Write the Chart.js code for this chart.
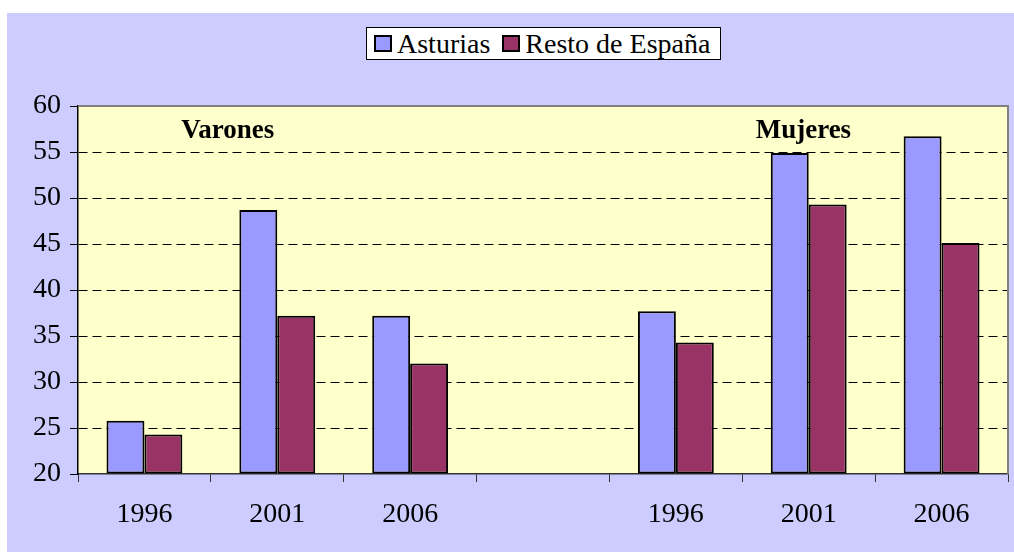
<!DOCTYPE html>
<html>
<head>
<meta charset="utf-8">
<script src="https://cdn.jsdelivr.net/npm/chart.js@4/dist/chart.umd.min.js"></script>
<style>
  html, body { margin: 0; padding: 0; background: #fff; }
  body { width: 1014px; height: 552px; position: relative; overflow: hidden; }
  #frame { position: absolute; left: 7px; top: 13px; width: 1007px; height: 539px; background: #CCCCFF; }
  #legend {
    position: absolute; left: 359px; top: 14px; height: 33px; box-sizing: border-box;
    background: #fff; border: 1px solid #000; display: flex; align-items: center;
    padding: 0 10px 0 7px; font-family: "Liberation Serif", "Times New Roman", serif; font-size: 28px; color: #000;
  }
  #legend .item { display: flex; align-items: center; }
  #legend .item + .item { margin-left: 12px; }
  #legend .sw { width: 18px; height: 17px; box-sizing: border-box; border: 2px solid #000; margin-right: 5px; }
  #legend span { line-height: 31px; white-space: nowrap; }
</style>
</head>
<body>
<div id="frame">
  <canvas id="chart"></canvas>
  <div id="legend"></div>
</div>
<script>
// Datos
const categorias = ['1996', '2001', '2006', '', '1996', '2001', '2006'];
const asturias = [25.8, 48.7, 37.2, null, 37.7, 54.9, 56.7];
const restoEspana = [24.3, 37.2, 32.0, null, 34.3, 49.3, 45.1];
const series = ['Asturias', 'Resto de España'];
const grupos = ['Varones', 'Mujeres'];
const ejeY = { min: 20, max: 60, paso: 5 };

const serif = '"Liberation Serif", "Times New Roman", serif';

// Fondo amarillo y marco gris del área de trazado
const plotArea = {
    id: 'plotArea',
    beforeDraw(chart) {
        const { ctx, chartArea: a } = chart;
        ctx.save();
        ctx.fillStyle = '#FFFFCC';
        ctx.fillRect(a.left, a.top, a.right - a.left, a.bottom - a.top);
        ctx.restore();
    },
    afterDraw(chart) {
        const { ctx, chartArea: a } = chart;
        ctx.save();
        ctx.strokeStyle = '#808080';
        ctx.lineWidth = 2;
        ctx.beginPath();
        ctx.moveTo(a.left, a.top);
        ctx.lineTo(a.right, a.top);
        ctx.lineTo(a.right, a.bottom);
        ctx.stroke();

        // Rótulos Varones / Mujeres
        const y = chart.scales.y;
        const w = a.right - a.left;
        ctx.fillStyle = '#000';
        ctx.font = 'bold 27px ' + serif;
        ctx.textAlign = 'center';
        ctx.textBaseline = 'alphabetic';
        ctx.fillText(grupos[0], a.left + w * 0.161, y.getPixelForValue(56.5));
        ctx.fillText(grupos[1], a.left + w * 0.780, y.getPixelForValue(56.5));
        ctx.restore();
    }
};

const ctx = document.getElementById('chart').getContext('2d');
const chart = new Chart(ctx, {
    type: 'bar',
    data: {
        labels: categorias,
        datasets: [
            { label: series[0], data: asturias, backgroundColor: '#9999FF' },
            { label: series[1], data: restoEspana, backgroundColor: '#993366' }
        ]
    },
    options: {
        responsive: true,
        maintainAspectRatio: false,
        animation: false,
        layout: { padding: { top: 93, right: 6, left: 0, bottom: 0 } },
        datasets: {
            bar: {
                base: ejeY.min,
                borderColor: '#000',
                borderWidth: 2,
                borderSkipped: false,
                categoryPercentage: 0.571,
                barPercentage: 1.0
            }
        },
        plugins: {
            legend: { display: false },
            tooltip: { enabled: false }
        },
        scales: {
            x: {
                offset: true,
                grid: { offset: true, drawOnChartArea: false, tickLength: 8, tickColor: '#333', tickWidth: 1 },
                border: { display: true, color: '#333', width: 1.5 },
                ticks: { color: '#000', font: { family: serif, size: 28 }, padding: 16, maxRotation: 0, autoSkip: false },
                afterFit(scale) { scale.height = 78; }
            },
            y: {
                min: ejeY.min,
                max: ejeY.max,
                beginAtZero: false,
                ticks: { stepSize: ejeY.paso, color: '#000', font: { family: serif, size: 28 }, padding: 9 },
                grid: {
                    color: (c) => (c.tick && (c.tick.value === ejeY.min || c.tick.value === ejeY.max)) ? 'rgba(0,0,0,0)' : '#000',
                    lineWidth: 1,
                    tickLength: 8,
                    tickColor: '#000'
                },
                border: { display: true, color: '#000', width: 1.5, dash: [9, 5] },
                afterFit(scale) { scale.width = 71; }
            }
        }
    },
    plugins: [plotArea]
});

// Leyenda en HTML a partir de los conjuntos de datos
const legend = document.getElementById('legend');
chart.data.datasets.forEach((ds) => {
    const item = document.createElement('div');
    item.className = 'item';
    const sw = document.createElement('div');
    sw.className = 'sw';
    sw.style.background = ds.backgroundColor;
    const txt = document.createElement('span');
    txt.textContent = ds.label;
    item.appendChild(sw);
    item.appendChild(txt);
    legend.appendChild(item);
});
</script>
</body>
</html>
